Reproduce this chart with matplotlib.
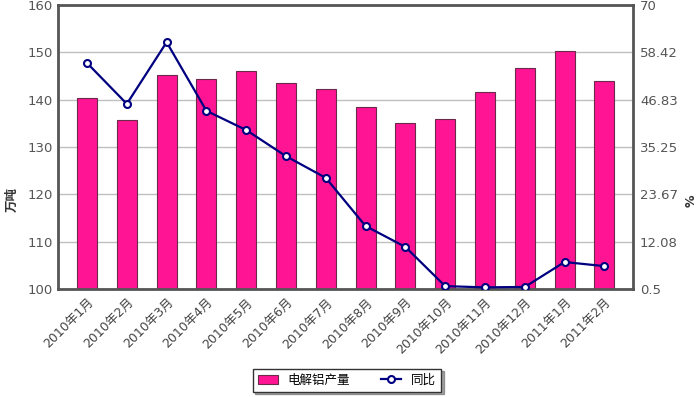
import matplotlib.pyplot as plt
import numpy as np

plt.rcParams['font.family'] = ['DejaVu Sans', 'Noto Sans CJK SC']

months = ['2010年1月', '2010年2月', '2010年3月', '2010年4月', '2010年5月', '2010年6月',
          '2010年7月', '2010年8月', '2010年9月', '2010年10月', '2010年11月', '2010年12月',
          '2011年1月', '2011年2月']
output = [140.3, 135.7, 145.2, 144.4, 146.1, 143.5, 142.3, 138.4, 135.1, 135.9,
          141.6, 146.7, 150.3, 143.9]
yoy = [55.8, 45.8, 60.9, 44.1, 39.4, 33.0, 27.7, 15.9, 10.8, 1.2, 0.9, 1.0, 7.1, 6.1]
right_ticks = [0.5, 12.08, 23.67, 35.25, 46.83, 58.42, 70]

fig = plt.figure(figsize=(6.98, 3.97), dpi=100)
ax = fig.add_axes([58 / 698, 1 - 289 / 397, 575 / 698, 284 / 397])
x = np.arange(len(months))

ax.bar(x, output, width=0.5, bottom=0, color='#ff1493', edgecolor='#6b2a4a',
       linewidth=0.8, zorder=2, label='电解铝产量')
ax.set_ylim(100, 160)
ax.set_yticks(range(100, 161, 10))
ax.set_xlim(-0.73, 13.72)
ax.grid(axis='y', color='#c0c0c0', linewidth=1, zorder=0)
ax.set_axisbelow(True)
ax.set_xticks(x)
ax.set_xticklabels(months, rotation=45, ha='right', rotation_mode='anchor',
                   fontsize=9, color='#444444')
ax.tick_params(axis='both', length=0, pad=5)
ax.tick_params(axis='y', labelsize=9.5, labelcolor='#555555', pad=4)
for s in ax.spines.values():
    s.set_color('#555555')
    s.set_linewidth(2)

ax2 = ax.twinx()
ax2.plot(x, yoy, color='#000080', linewidth=1.6, marker='o', markersize=5,
         markerfacecolor='white', markeredgecolor='#000080', markeredgewidth=1.5,
         zorder=3, label='同比')
ax2.set_ylim(0.5, 70)
ax2.set_yticks(right_ticks)
ax2.set_yticklabels([f'{t:g}' for t in right_ticks])
ax2.tick_params(axis='y', length=0, pad=5, labelsize=9.5, labelcolor='#555555')
for s in ax2.spines.values():
    s.set_visible(False)

# axis titles
fig.text(12 / 698, 1 - 200 / 397, '万吨', rotation=90, ha='center', va='center',
         fontsize=9, fontweight='bold', color='#333333')
fig.text(691 / 698, 1 - 201 / 397, '%', rotation=90, ha='center', va='center',
         fontsize=9, fontweight='bold', color='#333333')

h1, l1 = ax.get_legend_handles_labels()
h2, l2 = ax2.get_legend_handles_labels()
leg = fig.legend(h1 + h2, l1 + l2, loc='center', bbox_to_anchor=(347 / 698, 1 - 380 / 397),
                 ncol=2, fontsize=9, frameon=True, fancybox=False, shadow=True,
                 edgecolor='#333333', handlelength=1.6, columnspacing=2.5,
                 borderpad=0.4)
leg.get_frame().set_linewidth(1)

fig.savefig('out.png', dpi=100)
